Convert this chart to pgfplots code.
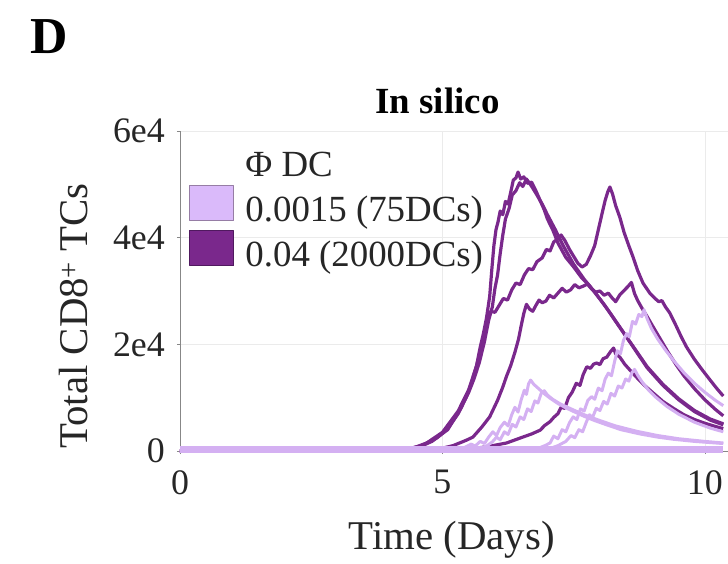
\documentclass[border=0pt]{standalone}
\usepackage{pgfplots}
\pgfplotsset{compat=1.18}
\usepackage{fontspec}
\setmainfont{Liberation Serif}
\definecolor{dk}{RGB}{122,40,140}
\definecolor{lt}{RGB}{212,176,242}
\definecolor{ltfill}{RGB}{218,186,250}
\definecolor{ltborder}{RGB}{150,125,165}
\definecolor{dkborder}{RGB}{80,25,95}
\definecolor{axgray}{RGB}{135,135,135}
\definecolor{txt}{RGB}{38,38,38}
\begin{document}
\begin{tikzpicture}
\useasboundingbox (-180bp,-113bp) rectangle (548bp,451bp);
\node[anchor=base west, inner sep=0pt, font=\fontsize{52}{60}\selectfont\bfseries] at (-150bp,397bp) {D};
\begin{axis}[
  at={(0,0)}, anchor=south west,
  scale only axis, width=548bp, height=320bp,
  xmin=0, xmax=10.44, ymin=0, ymax=60000,
  clip=false,
  axis x line*=bottom, axis y line*=left,
  axis line style={axgray, line width=0.8bp},
  xtick={0,5,10}, xticklabels={0,5,10},
  ytick={0,20000,40000,60000}, yticklabels={0,2e4,4e4,6e4},
  scaled y ticks=false,
  tick align=outside, major tick length=3bp,
  tick style={axgray, line width=0.8bp},
  grid=major, major grid style={color=black!8, line width=0.8bp},
  ticklabel style={font=\fontsize{36}{43}\selectfont, text=txt},
  /pgf/number format/assume math mode=true,
  xticklabel style={inner sep=0pt, yshift=-16bp},
  yticklabel style={inner sep=0pt, xshift=-12bp},
  title={In silico},
  title style={at={(axis description cs:0.47,1)}, anchor=base, yshift=12bp, inner sep=0pt, font=\fontsize{37}{44}\selectfont\bfseries, text=black},
  xlabel={Time (Days)},
  xlabel style={at={(axis description cs:0.496,0)}, anchor=base, yshift=-98bp, inner sep=0pt, font=\fontsize{41}{48}\selectfont, text=txt},
  ylabel={Total CD8\textsuperscript{+} TCs},
  ylabel style={at={(axis description cs:-0.168,0.422)}, anchor=base, inner sep=0pt, font=\fontsize{41}{48}\selectfont, text=txt},
  legend style={at={(axis description cs:0.0164,0.935)}, anchor=north west, draw=none, fill=none, inner sep=0pt, row sep=7bp, column sep=11bp, font=\fontsize{37}{44}\selectfont, text=txt, nodes={inner sep=0pt}},
  legend cell align=left,
  every axis plot/.append style={line join=round},
]
\addlegendimage{empty legend}
\addlegendentry{Φ DC}
\addlegendimage{legend image code/.code={\draw[fill=ltfill, draw=ltborder, line width=1.3bp] (0bp,-11bp) rectangle (44bp,24bp);}}
\addlegendentry{0.0015 (75DCs)}
\addlegendimage{legend image code/.code={\draw[fill=dk, draw=dkborder, line width=1.3bp] (0bp,-11bp) rectangle (44bp,24bp);}}
\addlegendentry{0.04 (2000DCs)}

% dark series
\addplot[dk, line width=3.2bp, forget plot] coordinates {(0,0)(4.0,0)(4.3,300)(4.6,1000)(4.9,2500)(5.1,4200)(5.3,7000)(5.45,10000)(5.55,12500)(5.65,16000)(5.72,19500)(5.78,22000)(5.84,25000)(5.9,29000)(5.94,34000)(5.98,38500)(6.02,41500)(6.06,43000)(6.1,45000)(6.15,44300)(6.2,46800)(6.25,46300)(6.3,48500)(6.35,50800)(6.4,51200)(6.44,52300)(6.49,51000)(6.55,51400)(6.62,50200)(6.7,50400)(6.78,48800)(6.86,47000)(6.94,45200)(7.0,43500)(7.1,41500)(7.2,39000)(7.35,36300)(7.5,34500)(7.65,32500)(7.8,31000)(8.0,28500)(8.2,25800)(8.5,21500)(8.9,15800)(9.2,12500)(9.5,9800)(9.8,7600)(10.1,6000)(10.35,5100)};
\addplot[dk, line width=3.2bp, forget plot] coordinates {(0,0)(4.2,0)(4.5,500)(4.8,1800)(5.1,4000)(5.35,8000)(5.5,11000)(5.6,13500)(5.7,16500)(5.8,20500)(5.88,24500)(5.95,27000)(6.0,30500)(6.05,33000)(6.1,37000)(6.15,40500)(6.2,43500)(6.27,45500)(6.33,48000)(6.4,48800)(6.47,50300)(6.53,49600)(6.6,51000)(6.66,50200)(6.72,49300)(6.8,48000)(6.9,46300)(7.0,44300)(7.15,41500)(7.3,38500)(7.5,35000)(7.7,32200)(7.9,29800)(8.1,27200)(8.3,24300)(8.6,20000)(8.9,15600)(9.2,12300)(9.5,9600)(9.8,7400)(10.1,5800)(10.35,4900)};
\addplot[dk, line width=3.2bp, forget plot] coordinates {(0,0)(4.1,0)(4.4,400)(4.7,1500)(5.0,3500)(5.3,7500)(5.5,11500)(5.65,16000)(5.76,20500)(5.85,24500)(5.92,26200)(6.0,26000)(6.08,27300)(6.16,28600)(6.24,28300)(6.32,30200)(6.4,31500)(6.48,31200)(6.56,33000)(6.64,34200)(6.72,34000)(6.8,35500)(6.9,36200)(6.98,37800)(7.05,37500)(7.12,39200)(7.2,39800)(7.26,40500)(7.33,39500)(7.42,37800)(7.5,36500)(7.58,35200)(7.66,34500)(7.74,35000)(7.82,36600)(7.9,38500)(7.97,41500)(8.04,44500)(8.1,47000)(8.15,48600)(8.19,49500)(8.24,48200)(8.3,46000)(8.38,43800)(8.46,41000)(8.55,38500)(8.63,36400)(8.72,33800)(8.82,31500)(8.95,29600)(9.05,28600)(9.12,28000)(9.18,28200)(9.25,27000)(9.33,25900)(9.45,23500)(9.55,21400)(9.65,19500)(9.8,17200)(9.95,15200)(10.1,13300)(10.22,11800)(10.35,10300)};
\addplot[dk, line width=3.2bp, forget plot] coordinates {(0,0)(4.6,0)(4.9,300)(5.2,1000)(5.45,2000)(5.58,2600)(5.75,4500)(5.9,6400)(6.05,9500)(6.15,12000)(6.22,14000)(6.3,16000)(6.38,18500)(6.45,21000)(6.5,23500)(6.55,25800)(6.6,27500)(6.66,26600)(6.72,26200)(6.78,27300)(6.84,28300)(6.9,27800)(6.97,28100)(7.04,29200)(7.12,28700)(7.2,29600)(7.28,30500)(7.36,29800)(7.44,30200)(7.52,31200)(7.6,30600)(7.68,30900)(7.76,31300)(7.84,30400)(7.92,29800)(8.0,30000)(8.08,29200)(8.16,29600)(8.24,28600)(8.3,28000)(8.38,29300)(8.46,30100)(8.53,30800)(8.6,31600)(8.66,29500)(8.72,28200)(8.8,26800)(8.9,25200)(9.0,23500)(9.15,21000)(9.3,18500)(9.45,16200)(9.6,14100)(9.8,11700)(10.0,9600)(10.2,7800)(10.35,6600)};
\addplot[dk, line width=3.2bp, forget plot] coordinates {(0,0)(5.0,0)(5.5,300)(5.9,900)(6.22,1500)(6.5,2500)(6.7,3200)(6.86,3900)(6.95,4800)(7.05,5500)(7.12,6300)(7.2,7000)(7.26,8200)(7.33,8000)(7.4,10000)(7.47,11000)(7.55,12700)(7.62,12300)(7.68,14300)(7.75,15800)(7.82,15500)(7.88,16300)(7.94,16500)(8.0,16200)(8.06,17300)(8.13,17600)(8.2,18600)(8.26,19300)(8.3,18200)(8.38,17600)(8.47,16300)(8.57,15200)(8.7,13800)(8.85,12300)(9.0,11000)(9.2,9300)(9.4,8000)(9.6,6800)(9.8,5900)(10.0,5200)(10.2,4600)(10.35,4200)};

% light series
\addplot[lt, line width=3bp, forget plot] coordinates {(0,0)(5.2,0)(5.35,300)(5.45,800)(5.55,1300)(5.62,900)(5.72,1800)(5.8,1400)(5.88,2600)(5.96,3600)(6.03,2900)(6.1,4400)(6.18,5400)(6.25,4700)(6.32,6800)(6.38,8200)(6.44,7300)(6.5,9600)(6.56,11400)(6.6,10600)(6.64,12600)(6.68,13300)(6.74,12500)(6.82,11800)(6.92,10900)(7.05,9900)(7.2,8900)(7.35,8100)(7.5,7400)(7.7,6500)(7.9,5700)(8.13,4900)(8.4,4000)(8.76,3200)(9.1,2600)(9.4,2200)(9.8,1800)(10.35,1400)};
\addplot[lt, line width=3bp, forget plot] coordinates {(0,0)(5.5,0)(5.7,400)(5.85,1000)(5.95,1700)(6.03,2600)(6.1,2100)(6.18,3600)(6.25,3100)(6.33,5000)(6.4,4500)(6.48,6400)(6.55,5900)(6.62,7900)(6.69,7400)(6.76,9400)(6.82,9000)(6.88,10800)(6.94,11300)(7.0,10500)(7.1,9700)(7.25,8800)(7.45,7900)(7.7,6800)(8.0,5700)(8.3,4700)(8.7,3700)(9.1,2900)(9.5,2300)(10.0,1800)(10.35,1500)};
\addplot[lt, line width=3bp, forget plot] coordinates {(0,0)(6.6,0)(6.8,400)(6.95,1000)(7.05,1500)(7.12,2800)(7.2,2300)(7.28,4000)(7.35,3600)(7.42,5300)(7.49,6400)(7.56,5900)(7.63,7900)(7.7,7500)(7.77,9500)(7.84,10200)(7.9,9700)(7.97,11800)(8.04,11300)(8.1,13500)(8.16,14600)(8.22,14100)(8.28,16800)(8.33,18800)(8.39,18200)(8.45,20800)(8.51,22000)(8.56,21400)(8.62,24300)(8.68,23800)(8.74,25600)(8.8,25200)(8.84,26500)(8.9,24800)(8.98,23000)(9.1,21000)(9.25,18900)(9.4,17000)(9.6,14700)(9.8,12700)(10.0,11000)(10.2,9500)(10.35,8500)};
\addplot[lt, line width=3bp, forget plot] coordinates {(0,0)(6.8,0)(7.0,300)(7.2,1000)(7.35,1800)(7.45,2900)(7.52,2500)(7.6,4000)(7.67,3600)(7.74,5400)(7.8,6800)(7.86,6300)(7.93,8000)(8.0,7600)(8.07,9300)(8.14,8800)(8.21,10800)(8.28,10300)(8.35,12200)(8.42,11800)(8.49,13500)(8.55,13100)(8.61,14700)(8.66,15300)(8.72,14200)(8.8,13000)(8.92,11500)(9.05,10200)(9.27,8400)(9.5,6900)(9.8,5400)(10.1,4300)(10.35,3600)};
% runs that stay at zero
\addplot[lt, line width=7bp, forget plot] coordinates {(0,300)(10.35,300)};
\end{axis}
\end{tikzpicture}
\end{document}
